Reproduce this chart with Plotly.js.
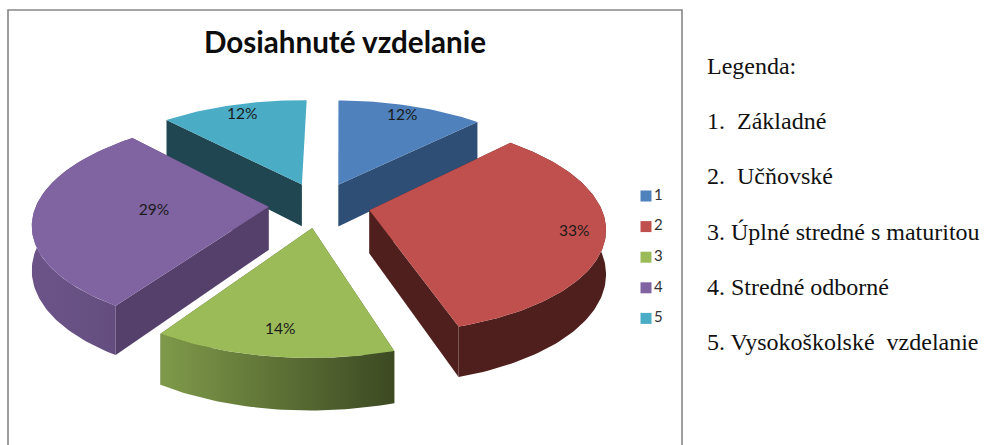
<!DOCTYPE html>
<html><head><meta charset="utf-8">
<script src="https://cdn.plot.ly/plotly-3.0.1.min.js"></script>
<style>html,body{margin:0;padding:0;background:#fff}</style></head>
<body><div id="chart" style="width:984px;height:445px"></div>
<script>
const categories = ["1","2","3","4","5"];
const shares = [12,33,14,29,12];
const topColors = ["#4f81bd","#c0504d","#9bbb59","#8064a2","#4bacc6"];
const radialColors = ["#2f4e75","#4f1f1d","#4c5e2a","#54406a","#1f4651"];
const rimLeftColors = ["#2f4e75","#4f1f1d","#7f9a4a","#6c5489","#1f4651"];
const rimRightColors = ["#2f4e75","#4f1f1d","#3c4922","#624c7c","#1f4651"];
const labelReach = [0.86,0.87,0.82,0.49,0.86];
const paintOrder = [0,4,3,1,2];
const noteLines = ["Legenda:","1.\u00A0\u00A0Základné","2.\u00A0\u00A0Učňovské","3. Úplné stredné s maturitou","4. Stredné odborné","5. Vysokoškolské\u00A0\u00A0vzdelanie"];
const titleText = "Dosiahnuté vzdelanie";

// perspective view of the tilted pie
const view = {cx:319.5, cy:205, R:231.5, A:102.6, k:0.15, shearX:3, shearY:1.5, depth:43, explode:0.22};
function project(u,v,drop){
  const w = 1 + view.k*v;
  return [view.cx + (view.R*u + view.shearX*v)/w,
          view.cy + (view.shearY*u - view.A*v)/w + (drop?view.depth/w:0)];
}
const total = shares.reduce((a,b)=>a+b,0);
let cursor = 0;
const slices = shares.map((s,i)=>{
  const a0 = cursor/total*2*Math.PI; cursor += s;
  const a1 = cursor/total*2*Math.PI, mid = (a0+a1)/2;
  return {i,a0,a1,mid,ox:view.explode*Math.sin(mid),oy:view.explode*Math.cos(mid)};
});
function arc(s,from,to,drop,rev){
  const n = Math.max(2,Math.ceil(Math.abs(to-from)/0.02)), pts=[];
  for(let j=0;j<=n;j++){
    const t = from+(to-from)*j/n;
    pts.push(project(s.ox+Math.sin(t),s.oy+Math.cos(t),drop));
  }
  return rev?pts.reverse():pts;
}
function poly(pts,color,gradient){
  const t = {x:pts.map(p=>p[0]),y:pts.map(p=>p[1]),mode:"lines",fill:"toself",
    line:{width:0},showlegend:false,hoverinfo:"skip",fillcolor:color};
  if(gradient) t.fillgradient = {type:"horizontal",colorscale:[[0,gradient[0]],[1,gradient[1]]]};
  return t;
}
const traces = [];
paintOrder.forEach(idx=>{
  const s = slices[idx];
  // radial cut faces (the seam at 12 o'clock is edge-on in this view)
  [s.a0,s.a1].forEach(a=>{
    if(Math.abs(Math.sin(a))<1e-6) return;
    traces.push(poly([
      project(s.ox,s.oy,false),
      project(s.ox+Math.sin(a),s.oy+Math.cos(a),false),
      project(s.ox+Math.sin(a),s.oy+Math.cos(a),true),
      project(s.ox,s.oy,true)],radialColors[idx]));
  });
  // rim, only on slices that face the viewer
  if(Math.cos(s.mid)<0.5){
    traces.push(poly(arc(s,s.a0,s.a1,false,false).concat(arc(s,s.a0,s.a1,true,true)),
      radialColors[idx],[rimLeftColors[idx],rimRightColors[idx]]));
  }
  // top face
  traces.push(poly([project(s.ox,s.oy,false)].concat(arc(s,s.a0,s.a1,false,false)),topColors[idx]));
});
// percentage labels
const labelPts = slices.map(s=>project(s.ox+labelReach[s.i]*Math.sin(s.mid),s.oy+labelReach[s.i]*Math.cos(s.mid),false));
traces.push({x:labelPts.map(p=>p[0]),y:labelPts.map(p=>p[1]),mode:"text",
  text:shares.map(v=>v+"%"),textposition:"middle center",
  textfont:{family:"Lato, sans-serif",size:15.5,color:"#1a1a1a"},showlegend:false,hoverinfo:"skip"});
// key
const keyX = 646, keyTop = 196, keyStep = 30.6;
categories.forEach((c,i)=>{
  traces.push({x:[keyX],y:[keyTop+i*keyStep],mode:"markers+text",name:c,text:[c],textposition:"middle right",
    marker:{symbol:"square",size:11,color:topColors[i]},
    textfont:{family:"Lato, sans-serif",size:15,color:"#333"},showlegend:false,hoverinfo:"skip"});
});
const noteTop = 66, noteStep = 55.2;
const annotations = noteLines.map((t,i)=>({xref:"x",yref:"y",x:705,y:noteTop+i*noteStep,text:t,showarrow:false,
  xanchor:"left",yanchor:"middle",font:{family:"Liberation Serif, serif",size:24,color:"#111"}}));
const layout = {width:984,height:445,margin:{l:0,r:0,t:0,b:0},paper_bgcolor:"#fff",plot_bgcolor:"#fff",
  showlegend:false,
  title:{text:"<b>"+titleText+"</b>",x:345/984,xanchor:"center",y:1-43/445,yanchor:"middle",
    font:{family:"Lato, sans-serif",size:29.6,color:"#0d0d0d"}},
  xaxis:{range:[0,984],visible:false,fixedrange:true},
  yaxis:{range:[445,0],visible:false,fixedrange:true},
  shapes:[{type:"path",path:"M 8 445 L 8 10 L 682 10 L 682 445",xref:"x",yref:"y",line:{color:"#868686",width:1.6},layer:"below"}],
  annotations};
Plotly.newPlot("chart",traces,layout,{displayModeBar:false,staticPlot:true});
</script></body></html>
